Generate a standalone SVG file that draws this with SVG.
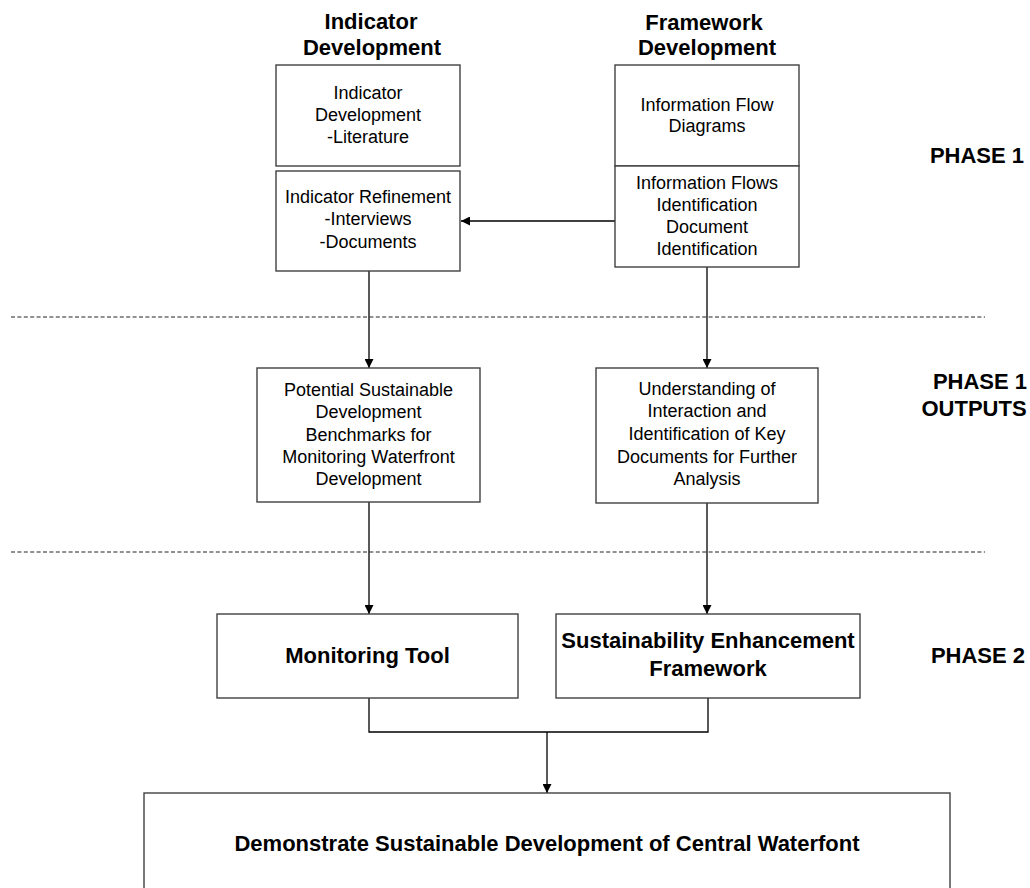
<svg xmlns="http://www.w3.org/2000/svg" width="1030" height="888" viewBox="0 0 1030 888">
<defs>
<style>
.box{fill:#fff;stroke:#404040;stroke-width:1.4}
.t{font-family:"Liberation Sans",Arial,sans-serif;font-size:18px;fill:#000;text-anchor:middle}
.b{font-family:"Liberation Sans",Arial,sans-serif;font-size:22px;font-weight:bold;fill:#000;text-anchor:middle}
.c{fill:none;stroke:#000;stroke-width:1.3}
.d{fill:none;stroke:#222;stroke-width:1;stroke-dasharray:4 2.4}
</style>
<marker id="ah" viewBox="0 0 10 10" refX="10" refY="5" markerWidth="9" markerHeight="9" markerUnits="userSpaceOnUse" orient="auto">
<path d="M0,0 L10,5 L0,10 z" fill="#000"/>
</marker>
</defs>
<rect width="1030" height="888" fill="#fff"/>

<g id="dividers">
<line class="d" x1="11" y1="317" x2="985" y2="317"/>
<line class="d" x1="11" y1="552" x2="985" y2="552"/>
</g>

<g id="headings">
<text class="b" x="371" y="29">Indicator</text>
<text class="b" x="372" y="55">Development</text>
<text class="b" x="704" y="30">Framework</text>
<text class="b" x="707" y="55">Development</text>
</g>

<g id="phase-labels">
<text class="b" x="977" y="163">PHASE 1</text>
<text class="b" x="980" y="389">PHASE 1</text>
<text class="b" x="974" y="416">OUTPUTS</text>
<text class="b" x="978" y="663">PHASE 2</text>
</g>

<g id="connectors">
<line class="c" x1="615" y1="221" x2="461" y2="221" marker-end="url(#ah)"/>
<line class="c" x1="369" y1="271" x2="369" y2="368" marker-end="url(#ah)"/>
<line class="c" x1="707" y1="267" x2="707" y2="368" marker-end="url(#ah)"/>
<line class="c" x1="369" y1="502" x2="369" y2="614" marker-end="url(#ah)"/>
<line class="c" x1="707" y1="503" x2="707" y2="614" marker-end="url(#ah)"/>
<polyline class="c" points="369,698 369,732 708,732 708,698"/>
<line class="c" x1="547" y1="732" x2="547" y2="793" marker-end="url(#ah)"/>
</g>

<g id="node-indicator-development">
<rect class="box" x="276" y="65" width="184" height="101"/>
<text class="t" x="368" y="99">Indicator</text>
<text class="t" x="368" y="121">Development</text>
<text class="t" x="368" y="143">-Literature</text>
</g>

<g id="node-indicator-refinement">
<rect class="box" x="276" y="171" width="184" height="100"/>
<text class="t" x="368" y="203">Indicator Refinement</text>
<text class="t" x="368" y="225">-Interviews</text>
<text class="t" x="368" y="248">-Documents</text>
</g>

<g id="node-information-flow-diagrams">
<rect class="box" x="615" y="65" width="184" height="101"/>
<text class="t" x="707" y="111">Information Flow</text>
<text class="t" x="707" y="132">Diagrams</text>
</g>

<g id="node-information-flows-identification">
<rect class="box" x="615" y="166" width="184" height="101"/>
<text class="t" x="707" y="189">Information Flows</text>
<text class="t" x="707" y="211">Identification</text>
<text class="t" x="707" y="233">Document</text>
<text class="t" x="707" y="255">Identification</text>
</g>

<g id="node-benchmarks">
<rect class="box" x="257" y="368" width="223" height="134"/>
<text class="t" x="368.5" y="396">Potential Sustainable</text>
<text class="t" x="368.5" y="418">Development</text>
<text class="t" x="368.5" y="441">Benchmarks for</text>
<text class="t" x="368.5" y="463">Monitoring Waterfront</text>
<text class="t" x="368.5" y="485">Development</text>
</g>

<g id="node-understanding">
<rect class="box" x="596" y="368" width="222" height="135"/>
<text class="t" x="707" y="395">Understanding of</text>
<text class="t" x="707" y="417">Interaction and</text>
<text class="t" x="707" y="440">Identification of Key</text>
<text class="t" x="707" y="463">Documents for Further</text>
<text class="t" x="707" y="485">Analysis</text>
</g>

<g id="node-monitoring-tool">
<rect class="box" x="217" y="614" width="301" height="84"/>
<text class="b" x="367.5" y="663">Monitoring Tool</text>
</g>

<g id="node-enhancement-framework">
<rect class="box" x="556" y="614" width="304" height="84"/>
<text class="b" x="708" y="648">Sustainability Enhancement</text>
<text class="b" x="708" y="676">Framework</text>
</g>

<g id="node-demonstrate">
<rect class="box" x="144" y="793" width="806" height="120"/>
<text class="b" x="547" y="851">Demonstrate Sustainable Development of Central Waterfont</text>
</g>
</svg>
